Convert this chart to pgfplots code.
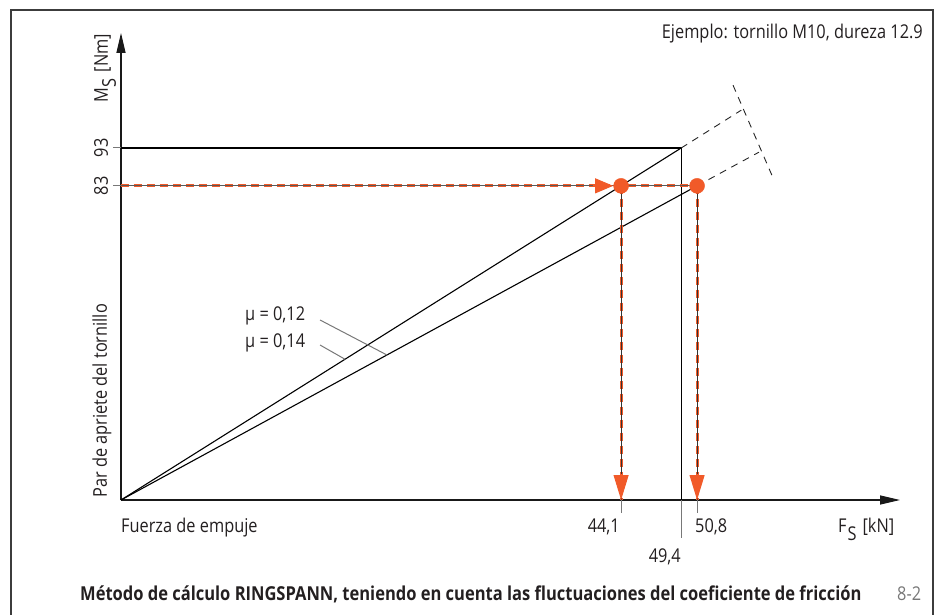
\documentclass[border=0pt]{standalone}
\usepackage{pgfplots}
\pgfplotsset{compat=1.18}
\usepackage{fontspec}
\setmainfont{Open Sans}[FakeStretch=0.86]
\usetikzlibrary{arrows.meta}
\definecolor{orr}{RGB}{241,90,41}
\definecolor{frm}{RGB}{60,60,60}
\definecolor{gl}{RGB}{120,120,120}
\definecolor{tx}{RGB}{35,31,32}
\begin{document}
\begin{tikzpicture}[x=1pt,y=1pt,font=\fontsize{19}{22}\selectfont, every node/.style={text=tx}]
\useasboundingbox (-121,-114) rectangle (819,500);
\draw[frm, line width=1.5pt] (-110,-130) -- (-110,490) -- (812,490) -- (812,-130);
\begin{axis}[at={(0,0)}, anchor=south west, x=11.34pt, y=3.785pt,
  xmin=0, xmax=68.7, ymin=0, ymax=123.4, axis lines=left,
  axis line style={line width=1.3pt, black!90, -{Triangle[length=20pt,width=9pt]}},
  xtick=\empty, ytick=\empty, clip=false]
% ticks
\draw[gl, line width=1pt] (axis cs:0,93) -- ++(-8pt,0);
\draw[gl, line width=1pt] (axis cs:0,83) -- ++(-8pt,0);
\draw[gl, line width=1pt] (axis cs:44.1,0) -- ++(0,-13pt);
\draw[gl, line width=1pt] (axis cs:50.8,0) -- ++(0,-13pt);
\draw[gl, line width=1pt] (axis cs:49.4,0) -- ++(0,-38pt);
% rectangle and lines
\addplot[black, line width=1.1pt] coordinates {(0,93) (49.4,93) (49.4,0)};
\addplot[black, line width=1.1pt] coordinates {(0,0) (49.4,93)};
\addplot[black, line width=1.1pt] coordinates {(0,0) (50.8,83)};
\addplot[black!85, line width=0.9pt, dash pattern=on 7pt off 6pt] coordinates {(49.4,93) (54.7,103)};
\addplot[black!85, line width=0.9pt, dash pattern=on 7pt off 6pt] coordinates {(50.8,83) (56.26,91.9)};
\addplot[black!85, line width=0.9pt, dash pattern=on 7pt off 6pt] coordinates {(53.97,109.6) (57.5,85.1)};
% leaders
\addplot[gl, line width=1pt] coordinates {(17.55,47.56) (23.46,38.3)};
\addplot[gl, line width=1pt] coordinates {(17.55,40.95) (19.75,37.2)};
% orange dashed
\addplot[orr, line width=3pt, dash pattern=on 8pt off 5pt] coordinates {(0,83) (50.8,83)};
\addplot[orr, line width=3pt, dash pattern=on 8pt off 5pt] coordinates {(44.1,83) (44.1,0)};
\addplot[orr, line width=3pt, dash pattern=on 8pt off 5pt] coordinates {(50.8,83) (50.8,0)};
\addplot[black!65, line width=1pt] coordinates {(0,83) (50.8,83)};
\addplot[black!80, line width=1pt] coordinates {(44.1,83) (44.1,0)};
\addplot[black!80, line width=1pt] coordinates {(50.8,83) (50.8,0)};
% arrow heads
\addplot[orr, line width=1pt, -{Triangle[length=18pt,width=15pt]}] coordinates {(41.6,83) (43.4,83)};
\addplot[orr, line width=1pt, -{Triangle[length=25pt,width=15pt]}] coordinates {(44.1,7) (44.1,0)};
\addplot[orr, line width=1pt, -{Triangle[length=25pt,width=15pt]}] coordinates {(50.8,7) (50.8,0)};
% dots
\addplot[only marks, mark=*, mark size=7.5pt, orr] coordinates {(44.1,83) (50.8,83)};
\end{axis}
\node[anchor=base east, inner sep=0] at (802,461) {Ejemplo: tornillo M10, dureza 12.9};
\node[anchor=base west, inner sep=0] at (0,-32) {Fuerza de empuje};
\node[anchor=base east, inner sep=0] at (499,-32) {44,1};
\node[anchor=base west, inner sep=0] at (574,-32) {50,8};
\node[anchor=base east, inner sep=0] at (560,-62) {49,4};
\node[anchor=base west, inner sep=0] at (717,-32) {F\hspace{1pt}\raisebox{-8pt}{S}\hspace{6pt}[kN]};
\node[anchor=base west, inner sep=0, rotate=90] at (-13,397) {M\hspace{1pt}\raisebox{-8pt}{S}\hspace{6pt}[Nm]};
\node[anchor=base, inner sep=0, rotate=90] at (-13,352) {93};
\node[anchor=base, inner sep=0, rotate=90] at (-13,314) {83};
\node[anchor=base west, inner sep=0, rotate=90] at (-14,2) {Par de apriete del tornillo};
\node[anchor=base west, inner sep=0] at (124,180) {µ = 0,12};
\node[anchor=base west, inner sep=0] at (124,153) {µ = 0,14};
\node[anchor=base west, inner sep=0, font=\fontsize{19.2}{22}\selectfont\bfseries] at (-41,-100) {Método de cálculo RINGSPANN, teniendo en cuenta las fluctuaciones del coeficiente de fricción};
\node[anchor=base west, inner sep=0, text=gl] at (776,-100) {8-2};
\end{tikzpicture}
\end{document}
